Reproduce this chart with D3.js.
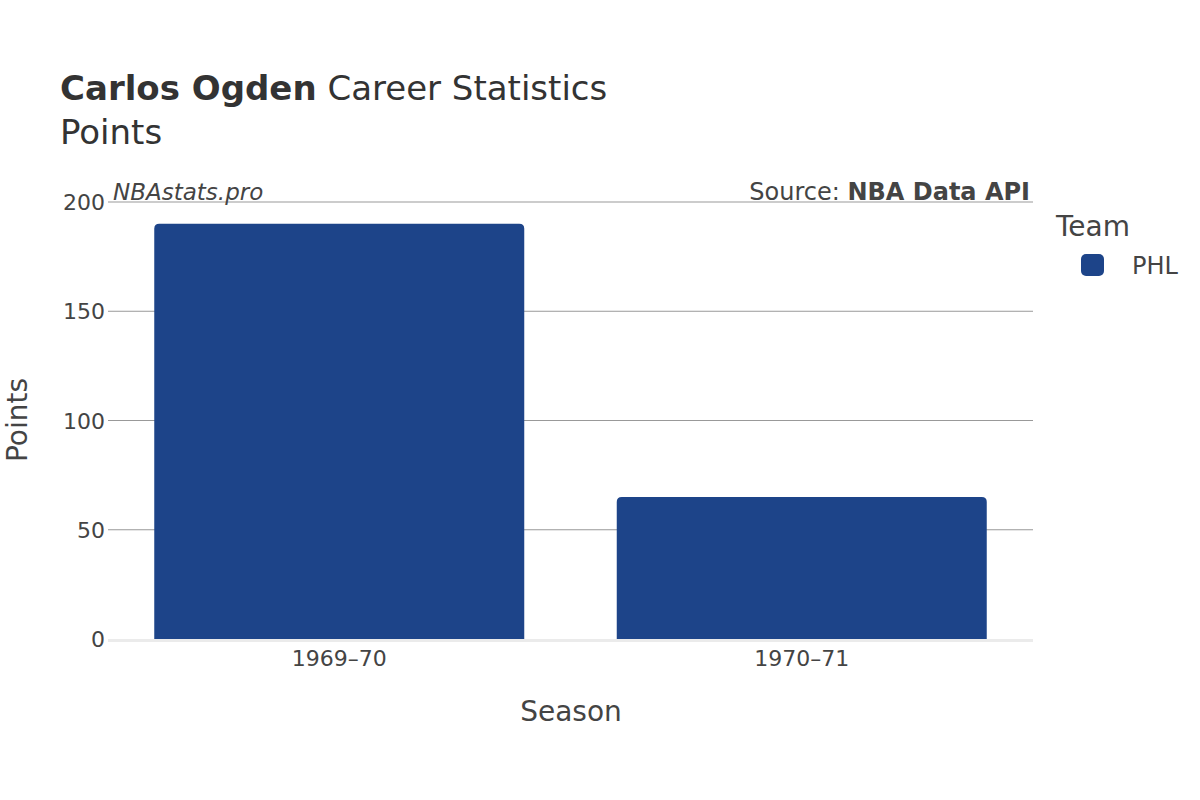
<!DOCTYPE html>
<html><head><meta charset="utf-8">
<script src="https://cdn.jsdelivr.net/npm/d3@7"></script>
<style>body{margin:0;background:#fff;font-family:"DejaVu Sans",sans-serif;}</style>
</head><body><div id="chart"></div>
<script>
var seasons = ["1969–70", "1970–71"];
var points = [190, 65];
var yTicks = [0, 50, 100, 150, 200];
var teams = ["PHL"];
var teamColor = "#1d4489";

var w = 1200, h = 800;
var svg = d3.select("#chart").append("svg").attr("width", w).attr("height", h);
var plotLeft = 108, plotRight = 1033, plotTop = 202, plotBottom = 639;

var x = d3.scaleBand().domain(seasons).range([plotLeft, plotRight]).paddingInner(0.2).paddingOuter(0.1);
var y = d3.scaleLinear().domain([0, 200]).range([plotBottom, plotTop]);

// grid
svg.append("g").selectAll("line").data(yTicks.filter(d => d > 0)).join("line")
  .attr("x1", plotLeft).attr("x2", plotRight)
  .attr("y1", d => y(d)).attr("y2", d => y(d))
  .style("stroke", "#999").style("stroke-width", 1);

svg.append("line").attr("x1", plotLeft).attr("x2", plotRight).attr("y1", y(0) + 1.5).attr("y2", y(0) + 1.5)
  .style("stroke", "#ebebeb").style("stroke-width", 3);

// bars with rounded top corners
var r = 5;
svg.append("g").selectAll("path").data(seasons).join("path")
  .attr("d", function(d, i) {
    var x0 = x(d), x1 = x(d) + x.bandwidth(), y0 = y(points[i]), y1 = y(0);
    return "M" + x0 + "," + y1 + "V" + (y0 + r) + "Q" + x0 + "," + y0 + " " + (x0 + r) + "," + y0 +
      "H" + (x1 - r) + "Q" + x1 + "," + y0 + " " + x1 + "," + (y0 + r) + "V" + y1 + "Z";
  })
  .style("fill", teamColor);

// y tick labels
svg.append("g").selectAll("text").data(yTicks).join("text")
  .attr("x", plotLeft - 3).attr("y", d => y(d) + 8)
  .attr("text-anchor", "end").attr("font-size", 22).attr("fill", "#444")
  .text(d => d);

// x tick labels
svg.append("g").selectAll("text").data(seasons).join("text")
  .attr("x", d => x(d) + x.bandwidth() / 2).attr("y", 666)
  .attr("text-anchor", "middle").attr("font-size", 22).attr("fill", "#444")
  .text(d => d);

// titles
var t = svg.append("text").attr("x", 60).attr("y", 100).attr("font-size", 34).attr("fill", "#333");
t.append("tspan").attr("font-weight", "bold").text("Carlos Ogden");
t.append("tspan").text(" Career Statistics");
svg.append("text").attr("x", 60).attr("y", 144).attr("font-size", 34).attr("fill", "#333").text("Points");

svg.append("text").attr("x", 113).attr("y", 200).attr("font-size", 23).attr("font-style", "italic")
  .attr("fill", "#444").text("NBAstats.pro");
var s = svg.append("text").attr("x", 1030).attr("y", 200).attr("font-size", 24).attr("text-anchor", "end").attr("fill", "#444");
s.append("tspan").text("Source: ");
s.append("tspan").attr("font-weight", "bold").text("NBA Data API");

svg.append("text").attr("x", 571).attr("y", 721).attr("text-anchor", "middle").attr("font-size", 28).attr("fill", "#444").text("Season");
svg.append("text").attr("transform", "translate(27,420) rotate(-90)").attr("text-anchor", "middle")
  .attr("font-size", 28).attr("fill", "#444").text("Points");

// legend
svg.append("text").attr("x", 1056).attr("y", 236).attr("font-size", 28).attr("fill", "#444").text("Team");
var lg = svg.append("g").selectAll("g").data(teams).join("g").attr("transform", (d, i) => "translate(1081," + (254 + i * 30) + ")");
lg.append("rect").attr("width", 23).attr("height", 22).attr("rx", 5).style("fill", teamColor);
lg.append("text").attr("x", 51).attr("y", 20).attr("font-size", 24).attr("fill", "#444").text(d => d);
</script></body></html>
